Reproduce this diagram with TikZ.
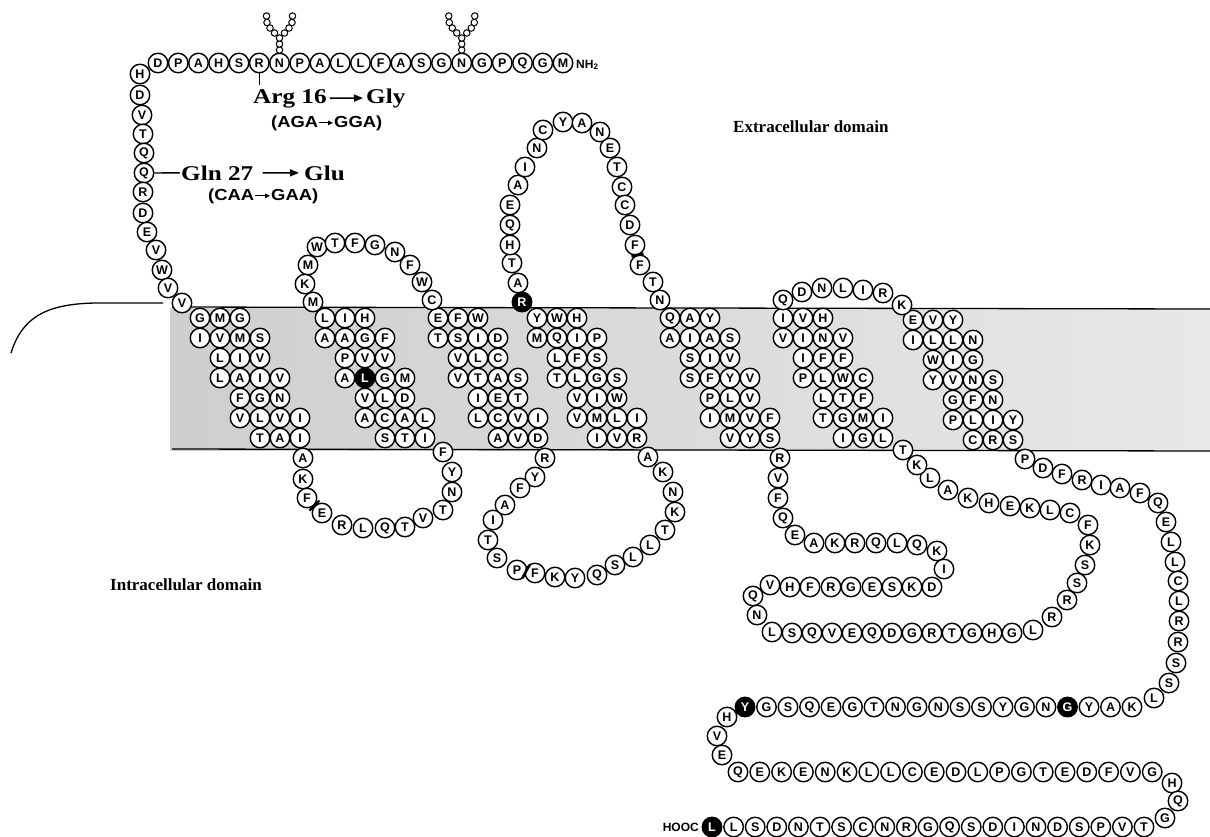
\documentclass[tikz,border=0pt]{standalone}
\usepackage{fontspec}
\setmainfont{Liberation Serif}
\setsansfont{Liberation Sans}
\newfontfamily\mutfont[FakeStretch=1.2]{Liberation Serif}
\newfontfamily\codonfont[FakeStretch=1.15]{Liberation Sans}
\usepackage{tikz}
\usetikzlibrary{arrows.meta,calc}
\tikzset{
    res/.style = {draw, circle, fill=white, line width=1.4pt, minimum size=19.5pt, inner sep=0pt, font=\sffamily\bfseries\fontsize{12.5}{12.5}\selectfont},
    res-dark/.style = {res, fill=black, text=white},
    sugar/.style = {draw, circle, fill=white, line width=1pt, minimum size=6.5pt, inner sep=0pt},
    mutation/.style = {font=\mutfont\bfseries\fontsize{21}{21}\selectfont, inner sep=1pt},
    codon/.style = {font=\codonfont\bfseries\fontsize{16}{16}\selectfont, inner sep=1pt},
    domain-label/.style = {font=\bfseries\fontsize{17}{17}\selectfont, inner sep=0pt},
    terminus/.style = {font=\sffamily\bfseries\fontsize{12}{12}\selectfont, inner sep=0pt},
    big-arrow/.style = {line width=1.6pt, -{Triangle[length=9pt,width=7pt]}},
    small-arrow/.style = {line width=1.2pt, -{Triangle[length=5pt,width=4.5pt]}},
    tick/.style = {line width=1.4pt},
    membrane-line/.style = {line width=1.3pt},
    cut/.style = {line width=2.4pt},
}
% one transmembrane helix: name, x of first column, y of first row, dark residue, rows
\newcommand{\tmhelix}[5]{%
  \foreach \hrow [count=\hr from 0] in {#5} {
    \pgfmathtruncatemacro{\hcol}{floor(\hr/2)}
    \foreach \resl [count=\hk from \hcol] in \hrow {
      \edef\hid{\hr-\hk}\edef\hdark{#4}
      \ifx\hid\hdark \def\hstyle{res-dark}\else \def\hstyle{res}\fi
      \node[\hstyle] (#1-\hr-\hk) at ({#2+20*\hk}, {#3+20*\hr}) {\resl};
    }
  }
}

\begin{document}
\begin{tikzpicture}[x=1pt, y=-1pt]
\useasboundingbox (0,0) rectangle (1210,836);

% membrane
\shade[left color=black!19, right color=black!9] (170,308) rectangle (1210,450);
\draw[membrane-line] (172,307) -- (1210,309);
\draw[membrane-line] (172,449) -- (1210,451);
\draw[membrane-line] (11,353) .. controls (22,318) and (45,304) .. (95,303) -- (163,303);

% N-terminus
\foreach \resl [count=\idx from 0] in {D,P,A,H,S,R,N,P,A,L,L,F,A,S,G,N,G,P,Q,G,M}
    \node[res] (nt\idx) at ({158+20.25*\idx}, 63) {\resl};
\foreach \x/\y/\resl [count=\idx] in {140/74/H, 140/95/D, 142/115/V, 143/134/T, 144/153/Q, 144/173/Q, 143/192/R, 143/213/D, 147/232/E, 156/250/V, 162/270/W, 168/288/V, 182/303/V}
    \node[res] (lc\idx) at (\x,\y) {\resl};
\node[terminus, anchor=base west] (nh2) at (576,68) {NH\textsubscript{2}};

% sugar trees
\foreach \n in {6,15} {
  \foreach \dx/\dy [count=\idx] in {0/-13, 0/-19, 0/-25, -5/-30, -9.5/-35, -12.5/-40.5, -13/-47, 5/-30, 9.5/-35, 12.5/-40.5, 13/-47}
    \node[sugar] (nt\n-s\idx) at ([shift={(\dx,\dy)}]nt\n.center) {};
}

% helices
\tmhelix{tma}{200}{318}{none}{{G,M,G},{I,V,M,S},{L,I,V},{L,A,I,V},{F,G,N},{V,L,V,I},{T,A,I}}
\tmhelix{tmb}{325}{318}{3-2}{{L,I,H},{A,A,G,F},{P,V,V},{A,L,G,M},{V,L,D},{A,C,A,L},{S,T,I}}
\tmhelix{tmc}{438}{318}{none}{{E,F,W},{T,S,I,D},{V,L,C},{V,T,A,S},{I,E,T},{L,C,V,I},{A,V,D}}
\tmhelix{tmd}{537}{318}{none}{{Y,W,H},{M,Q,I,P},{L,F,S},{T,L,G,S},{V,I,W},{V,M,L,I},{I,V,R}}
\tmhelix{tme}{670}{318}{none}{{Q,A,Y},{A,I,A,S},{S,I,V},{S,F,Y,V},{P,L,V},{I,M,V,F},{V,Y,S}}
\tmhelix{tmf}{783}{318}{none}{{I,V,H},{V,I,N,V},{I,F,F},{P,L,W,C},{L,T,F},{T,G,M,I},{I,G,L}}
\tmhelix{tmg}{913}{320}{none}{{E,V,Y},{I,L,L,N},{W,I,G},{Y,V,N,S},{G,F,N},{P,L,I,Y},{C,R,S}}

% loops
\foreach \x/\y/\resl [count=\idx] in {313/302/M, 305/284/K, 308/265/M, 317/247/W, 335/243/T, 355/243/F, 375/245/G, 395/252/N, 410/265/F, 422/282/W, 432/300/C}
    \node[res] (ela\idx) at (\x,\y) {\resl};
\foreach \x/\y/\resl [count=\idx] in {303/458/A, 303/479/K, 307/498/F, 322/513/E, 342/525/R, 363/528/L, 385/528/Q, 405/527/T, 423/518/V, 443/510/T, 452/492/N, 452/472/Y, 443/452/F}
    \node[res] (ila\idx) at (\x,\y) {\resl};
\foreach \x/\y/\resl [count=\idx] in {545/458/R, 535/477/Y, 520/488/F, 505/505/A, 493/520/I, 488/540/T, 497/558/S, 517/570/P, 535/573/F, 555/577/K, 575/578/Y, 597/575/Q, 615/565/S, 633/557/L, 650/545/L, 665/530/T, 675/512/K, 673/492/N, 663/472/K, 648/457/A}
    \node[res] (ilb\idx) at (\x,\y) {\resl};
\node[res-dark] (elb0) at (522,302) {R};
\foreach \x/\y/\resl [count=\idx] in {518/283/A, 512/263/T, 510/245/H, 510/225/Q, 510/205/E, 518/185/A, 525/167/I, 537/148/N, 543/130/C, 563/122/Y, 582/123/A, 600/132/N, 610/148/E, 617/167/T, 622/187/C, 625/205/C, 630/225/D, 635/245/F, 640/265/F, 653/282/T, 660/300/N}
    \node[res] (elb\idx) at (\x,\y) {\resl};
\foreach \x/\y/\resl [count=\idx] in {783/300/Q, 802/292/D, 822/288/N, 843/288/L, 863/290/I, 883/293/R, 902/305/K}
    \node[res] (elc\idx) at (\x,\y) {\resl};
\foreach \x/\y/\resl [count=\idx] in {780/458/R, 778/478/V, 778/498/F, 783/518/Q, 795/535/E, 814/543/A, 835/543/K, 855/543/R, 876/543/Q, 897/543/L, 917/545/Q, 937/551/K, 944/569/I, 932/587/D, 912/587/K, 892/587/S, 872/587/E, 851/587/G, 831/587/R, 810/587/F, 790/587/H, 770/585/V, 753/596/Q, 757/615/N, 772/632/L, 792/633/S, 812/633/Q, 832/633/V, 852/633/E, 872/633/Q, 892/633/D, 912/633/G, 932/633/R, 952/633/T, 972/633/G, 992/633/H, 1012/633/G, 1033/630/L, 1052/617/R, 1067/600/R, 1077/583/S, 1085/565/S, 1090/545/K, 1088/525/F, 1070/513/C, 1050/510/L, 1030/508/K, 1010/506/E, 989/503/H, 968/498/K, 948/490/A, 930/478/L, 917/465/K, 903/450/T}
    \node[res] (ilc\idx) at (\x,\y) {\resl};

% C-terminus
\foreach \x/\y/\resl [count=\idx] in {1025/459/P, 1043/468/D, 1062/474/F, 1082/480/R, 1101/485/I, 1120/488/A, 1140/493/F, 1158/503/Q, 1166/522/E, 1171/542/L, 1175/562/L, 1178/581/C, 1179/601/L, 1179/621/R, 1178/642/R, 1176/663/S, 1169/683/S, 1154/698/L}
    \node[res] (cta\idx) at (\x,\y) {\resl};
\foreach \resl [count=\idx from 0] in {Y,G,S,Q,E,G,T,N,G,N,S,S,Y,G,N,G,Y,A,K} {
    \ifnum\idx=0 \def\rstyle{res-dark}\else\ifnum\idx=15 \def\rstyle{res-dark}\else\def\rstyle{res}\fi\fi
    \node[\rstyle] (ctb\idx) at ({745+21.5*\idx}, 707) {\resl};
}
\foreach \x/\y/\resl [count=\idx] in {727/717/H, 717/736/V, 722/755/E}
    \node[res] (ctc\idx) at (\x,\y) {\resl};
\foreach \resl [count=\idx from 0] in {Q,E,K,E,N,K,L,L,C,E,D,L,P,G,T,E,D,F,V,G}
    \node[res] (ctd\idx) at ({738+21.8*\idx}, 772) {\resl};
\foreach \x/\y/\resl [count=\idx] in {1172/783/H, 1178/801/Q, 1165/818/G}
    \node[res] (cte\idx) at (\x,\y) {\resl};
\foreach \resl [count=\idx from 0] in {L,L,S,D,N,T,S,C,N,R,G,Q,S,D,I,N,D,S,P,V,T} {
    \ifnum\idx=0 \def\rstyle{res-dark}\else\def\rstyle{res}\fi
    \node[\rstyle] (ctf\idx) at ({712+21.6*\idx}, 827) {\resl};
}
\node[terminus, anchor=base east] (hooc) at (699,831) {HOOC};

% cut marks
\draw[cut] ($(ila3)!0.5!(ila4)+(-5,5)$) -- ($(ila3)!0.5!(ila4)+(5,-5)$);
\draw[cut] ($(ilb8)!0.5!(ilb9)+(-4,7)$) -- ($(ilb8)!0.5!(ilb9)+(4,-7)$);
\draw[cut] ($(elb18)!0.5!(elb19)+(-6,1.5)$) -- ($(elb18)!0.5!(elb19)+(6,-1.5)$);

% polymorphisms
\node[mutation, anchor=base west] (arg) at (252,103) {Arg 16};
\node[mutation, anchor=base west] (gly) at (365,103) {Gly};
\draw[big-arrow, shorten <=2pt, shorten >=2pt] (arg) -- (gly);
\node[codon, anchor=base west] (aga) at (270,127) {(AGA};
\node[codon, anchor=base west] (gga) at (333,127) {GGA)};
\draw[small-arrow] (aga) -- (gga);
\draw[tick] (nt5.south) -- ++(0,12);

\node[mutation, anchor=base west] (gln) at (180,180) {Gln 27};
\node[mutation, anchor=base west] (glu) at (303,180) {Glu};
\draw[big-arrow, shorten <=8pt, shorten >=4pt] (gln) -- (glu);
\node[codon, anchor=base west] (caa) at (207,200) {(CAA};
\node[codon, anchor=base west] (gaa) at (270,200) {GAA)};
\draw[small-arrow] (caa) -- (gaa);
\draw[tick] (lc6.east) -- (gln.west);

% domains
\node[domain-label, anchor=base west] (extra) at (733,132) {Extracellular domain};
\node[domain-label, anchor=base west] (intra) at (110,590) {Intracellular domain};
\end{tikzpicture}
\end{document}
